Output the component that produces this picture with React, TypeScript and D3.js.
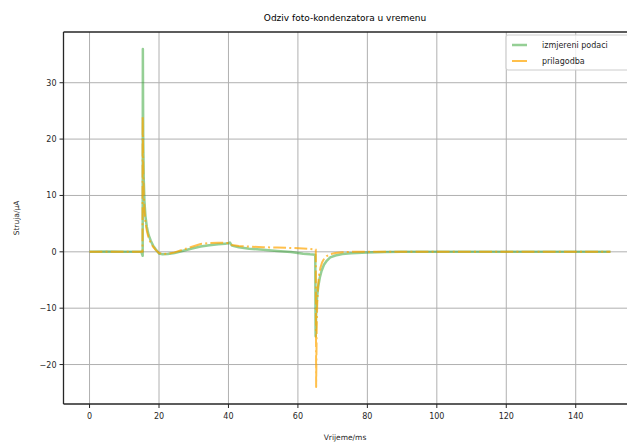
import React from "react";
import * as d3 from "d3";

const W = 627;
const H = 444;
const M = { left: 63.5, right: 636.5, top: 32, bottom: 404 };

const titleText = "Odziv foto-kondenzatora u vremenu";
const xLabel = "Vrijeme/ms";
const yLabel = "Struja/μA";
const xTicks = [0, 20, 40, 60, 80, 100, 120, 140];
const yTicks = [-20, -10, 0, 10, 20, 30];
const seriesNames = ["izmjereni podaci", "prilagodba"];

// measured data (time ms, current μA)
const measuredT = [0, 5, 10, 14.9, 15.3, 15.35, 15.45, 15.6, 15.8, 16.1, 16.5, 17.0, 17.6, 18.3, 19.1, 20.0, 21.0, 22.5, 24.5, 27, 29.5, 32, 34.5, 37, 39, 40.0, 40.4, 41.0, 43, 46, 50, 54, 58, 61.5, 63.5, 65.0, 65.1, 65.25, 65.4, 65.6, 65.9, 66.3, 66.8, 67.5, 68.3, 69.3, 70.8, 72.8, 75.3, 80, 85, 90, 100, 110, 120, 130, 140, 150];
const measuredY = [0.0, 0.05, 0.0, 0.0, -0.7, 36.0, 20.5, 13.0, 9.0, 6.3, 4.4, 3.0, 2.0, 1.1, 0.4, -0.3, -0.45, -0.4, -0.2, 0.2, 0.6, 0.95, 1.15, 1.35, 1.45, 1.5, 1.65, 1.1, 0.8, 0.55, 0.35, 0.15, -0.05, -0.35, -0.45, -0.5, -15.0, -11.0, -9.0, -7.5, -6.0, -4.6, -3.4, -2.3, -1.6, -1.0, -0.65, -0.4, -0.25, -0.12, -0.05, 0.0, 0.0, 0.02, 0.0, 0.0, 0.02, 0.0];

// fitted curve (time ms, current μA)
const fitT = [0, 5, 10, 15.25, 15.3, 15.45, 15.6, 15.8, 16.1, 16.5, 17.0, 17.6, 18.3, 19.1, 20.0, 21.0, 22.5, 24.5, 27, 29.5, 32, 34.5, 37, 39, 40.0, 40.4, 41.0, 43, 46.8, 50, 54, 58, 61.5, 63.6, 65.15, 65.25, 65.4, 65.55, 65.75, 66.05, 66.45, 66.95, 67.55, 68.3, 69.3, 70.8, 72.8, 75.3, 80, 90, 100, 110, 120, 130, 140, 150];
const fitY = [0.0, 0.0, 0.0, 0.0, 24.0, 15.0, 10.5, 7.5, 5.3, 3.7, 2.5, 1.6, 0.9, 0.3, -0.2, -0.4, -0.35, -0.1, 0.4, 0.9, 1.4, 1.55, 1.6, 1.6, 1.55, 1.5, 1.2, 1.05, 0.9, 0.82, 0.75, 0.68, 0.6, 0.5, 0.4, -24.0, -14.0, -9.5, -6.5, -4.3, -2.9, -1.9, -1.2, -0.75, -0.4, -0.2, -0.08, 0.0, 0.0, 0.0, 0.0, 0.0, 0.0, 0.0, 0.0, 0.0];

const GREEN = "#2ca02c";
const ORANGE = "#ffa500";

export default function App() {
  const x = d3.scaleLinear().domain([-7.5, 157.5]).range([M.left, M.right]);
  const y = d3.scaleLinear().domain([-27, 39]).range([M.bottom, M.top]);
  const line = d3
    .line<[number, number]>()
    .x((d) => x(d[0]))
    .y((d) => y(d[1]));
  const measured = measuredT.map((t, i) => [t, measuredY[i]] as [number, number]);
  const fit = fitT.map((t, i) => [t, fitY[i]] as [number, number]);
  const font = "DejaVu Sans, sans-serif";
  const axisColor = "#262626";

  return (
    <svg
      width={W}
      height={H}
      style={{ position: "absolute", left: 0, top: 0, background: "#fff" }}
      fontFamily={font}
    >
      <defs>
        <clipPath id="plotclip">
          <rect x={M.left} y={M.top} width={M.right - M.left} height={M.bottom - M.top} />
        </clipPath>
      </defs>
      {/* grid */}
      <g stroke="#b0b0b0" strokeWidth={1}>
        {xTicks.map((t) => (
          <line key={"gx" + t} x1={x(t)} x2={x(t)} y1={M.top} y2={M.bottom} />
        ))}
        {yTicks.map((t) => (
          <line key={"gy" + t} x1={M.left} x2={M.right} y1={y(t)} y2={y(t)} />
        ))}
      </g>
      <g clipPath="url(#plotclip)" fill="none" strokeLinejoin="round">
        <path d={line(measured) || ""} stroke={GREEN} strokeOpacity={0.5} strokeWidth={2.5} />
        <path
          d={line(fit) || ""}
          stroke={ORANGE}
          strokeOpacity={0.7}
          strokeWidth={2}
          strokeDasharray="12.8,3.2,2,3.2"
        />
      </g>
      {/* spines */}
      <g stroke={axisColor} strokeWidth={1.3} fill="none">
        <line x1={M.left} x2={M.left} y1={M.top} y2={M.bottom} />
        <line x1={M.left} x2={M.right} y1={M.bottom} y2={M.bottom} />
        <line x1={M.left} x2={M.right} y1={M.top} y2={M.top} />
      </g>
      {/* ticks */}
      <g stroke={axisColor} strokeWidth={1}>
        {xTicks.map((t) => (
          <line key={"tx" + t} x1={x(t)} x2={x(t)} y1={M.bottom} y2={M.bottom + 4} />
        ))}
        {yTicks.map((t) => (
          <line key={"ty" + t} x1={M.left - 4} x2={M.left} y1={y(t)} y2={y(t)} />
        ))}
      </g>
      <g fontSize={8} fill={axisColor}>
        {xTicks.map((t) => (
          <text key={"lx" + t} x={x(t)} y={M.bottom + 15} textAnchor="middle">
            {t}
          </text>
        ))}
        {yTicks.map((t) => (
          <text key={"ly" + t} x={M.left - 7} y={y(t) + 3} textAnchor="end">
            {t < 0 ? "\u2212" + Math.abs(t) : String(t)}
          </text>
        ))}
      </g>
      <text x={345} y={440} fontSize={7.5} textAnchor="middle" fill={axisColor}>
        {xLabel}
      </text>
      <text
        transform={`translate(19, ${(M.top + M.bottom) / 2}) rotate(-90)`}
        fontSize={7.5}
        textAnchor="middle"
        fill={axisColor}
      >
        {yLabel}
      </text>
      <text x={345} y={21} fontSize={9} textAnchor="middle" fill="#000">
        {titleText}
      </text>
      {/* legend */}
      <g>
        <rect x={506} y={35} width={130} height={35} rx={2} fill="#fff" fillOpacity={0.8} stroke="#cccccc" strokeWidth={1} />
        <line x1={512} x2={527} y1={45} y2={45} stroke={GREEN} strokeOpacity={0.5} strokeWidth={2.5} />
        <text x={542} y={48} fontSize={8} fill={axisColor}>
          {seriesNames[0]}
        </text>
        <line x1={512} x2={527} y1={61} y2={61} stroke={ORANGE} strokeOpacity={0.7} strokeWidth={2} />
        <text x={542} y={64} fontSize={8} fill={axisColor}>
          {seriesNames[1]}
        </text>
      </g>
    </svg>
  );
}
